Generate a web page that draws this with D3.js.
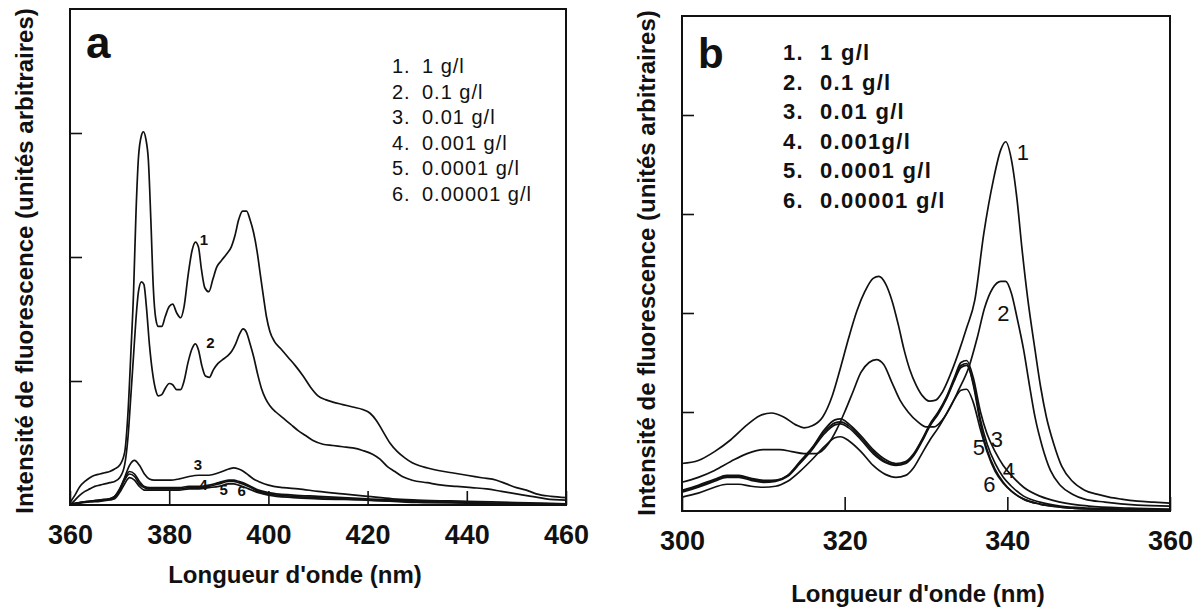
<!DOCTYPE html>
<html>
<head>
<meta charset="utf-8">
<script src="https://cdn.jsdelivr.net/npm/d3@7"></script>
<style>
  html, body { margin: 0; padding: 0; background: #fff; }
  text { font-family: "Liberation Sans", Arial, sans-serif; fill: #111; }
</style>
</head>
<body>
<script>
// ---------- DATA ----------
const legendLabelsA = ["1 g/l", "0.1 g/l", "0.01 g/l", "0.001 g/l", "0.0001 g/l", "0.00001 g/l"];
const legendLabelsB = ["1 g/l", "0.1 g/l", "0.01 g/l", "0.001g/l", "0.0001 g/l", "0.00001 g/l"];
const xTicksA = [360, 380, 400, 420, 440, 460];
const xTicksB = [300, 320, 340, 360];
const yTicksA = [1, 2, 3];
const yTicksB = [1, 2, 3, 4];

// Panel a – curve 1 (1 g/l)
const wlA1 = [360,361,362,363,364,365,366,367,368,369,370,371,371.7,372.3,372.8,373.3,373.8,374.4,374.8,375.3,375.8,376.3,376.8,377.3,377.8,378.5,379.2,380,380.7,381.5,382.3,383,383.8,384.6,385.3,385.9,386.5,387.2,388,388.8,389.6,390.5,391.5,392.5,393.3,394,394.8,395.6,396.3,397,397.7,398.4,399,399.6,400.3,401.2,402.5,404,405.5,407,408.5,410,411.5,413,415,417,419,420.5,421.8,423,424.5,426,427.5,429,431,434,437,440,443,446,448,450,452,454,457,460];
const intA1 = [0.02,0.08,0.15,0.19,0.22,0.24,0.25,0.26,0.27,0.29,0.32,0.42,0.75,1.25,1.7,2.35,2.8,2.98,3.01,2.95,2.78,2.3,1.75,1.5,1.44,1.44,1.52,1.6,1.62,1.55,1.51,1.6,1.85,2.05,2.12,2.08,1.9,1.75,1.72,1.82,1.92,1.97,2.02,2.08,2.18,2.3,2.37,2.37,2.3,2.2,2.05,1.85,1.68,1.52,1.40,1.32,1.26,1.19,1.12,1.04,0.95,0.88,0.85,0.83,0.81,0.79,0.77,0.74,0.68,0.6,0.5,0.43,0.38,0.34,0.31,0.28,0.26,0.24,0.22,0.2,0.17,0.14,0.12,0.09,0.07,0.06];
// Panel a – curve 2 (0.1 g/l)
const wlA2 = [360,361,362,363,364,365,366,367,368,369,370,371,371.7,372.3,372.8,373.3,373.8,374.4,374.9,375.4,376,376.6,377.2,377.8,378.5,379.2,380,380.7,381.5,382.3,383,383.8,384.6,385.3,385.9,386.6,387.3,388.1,388.9,389.8,390.7,391.7,392.6,393.4,394.2,394.9,395.6,396.3,397,397.8,398.6,399.4,400.3,401.5,403,404.5,406,407.5,409,411,413,415,417,419,421,422.5,424,425.5,427,429,432,435,438,441,444,447,450,453,456,460];
const intA2 = [0.0,0.04,0.08,0.11,0.13,0.15,0.16,0.17,0.18,0.19,0.22,0.32,0.55,0.9,1.2,1.5,1.72,1.8,1.78,1.6,1.3,1.08,0.94,0.88,0.89,0.94,0.98,0.97,0.93,0.93,1.0,1.15,1.26,1.3,1.25,1.12,1.04,1.03,1.09,1.14,1.17,1.2,1.24,1.3,1.38,1.42,1.39,1.3,1.2,1.06,0.94,0.86,0.8,0.75,0.7,0.65,0.6,0.56,0.52,0.49,0.48,0.47,0.46,0.44,0.41,0.37,0.31,0.27,0.23,0.2,0.18,0.16,0.15,0.14,0.13,0.11,0.09,0.07,0.05,0.04];
// Panel a – curve 3 (0.01 g/l)
const wlA3 = [360,362,364,366,368,369,370,371,372,373,374,375,376,377,378,380,382,384,386,388,390,392,393,394,395,396,397,398,400,403,406,410,415,420,425,430,440,450,460];
const intA3 = [0.01,0.02,0.03,0.04,0.05,0.07,0.12,0.22,0.32,0.36,0.32,0.25,0.21,0.2,0.2,0.2,0.21,0.23,0.24,0.24,0.26,0.29,0.3,0.29,0.27,0.24,0.21,0.19,0.16,0.14,0.13,0.11,0.09,0.07,0.05,0.04,0.03,0.02,0.01];
// Panel a – curves 4, 5, 6 (shared wavelengths)
const wlA46 = [360,362,364,366,368,369,370,371,372,373,374,375,376,378,380,382,384,386,388,390,392,393,394,396,398,400,405,410,420,430,440,450,460];
const intA4 = [0.0,0.02,0.03,0.04,0.05,0.07,0.13,0.21,0.27,0.25,0.19,0.15,0.14,0.14,0.14,0.14,0.15,0.15,0.16,0.18,0.2,0.2,0.19,0.16,0.12,0.1,0.08,0.07,0.05,0.03,0.02,0.01,0.01];
const intA5 = [0.0,0.02,0.03,0.035,0.045,0.06,0.12,0.2,0.25,0.23,0.17,0.14,0.13,0.13,0.13,0.13,0.14,0.14,0.15,0.17,0.19,0.19,0.18,0.15,0.11,0.09,0.07,0.06,0.04,0.03,0.02,0.01,0.01];
const intA6 = [0.0,0.015,0.025,0.03,0.04,0.05,0.1,0.17,0.22,0.2,0.15,0.12,0.12,0.12,0.12,0.12,0.13,0.13,0.14,0.15,0.17,0.17,0.16,0.13,0.1,0.08,0.06,0.05,0.04,0.02,0.015,0.01,0.01];

// Panel b – curve 1 (1 g/l)
const wlB1 = [300,302,304,306,308,309.5,311,312.5,314,315,316,317.3,318.5,319.5,320.5,321.5,322.5,323.5,324.2,325,325.8,326.6,327.3,328,328.8,329.6,330.4,331.2,332,333,334,335,336,337.1,338.3,339.2,339.8,340.5,341.2,341.8,342.5,343.4,344.1,344.8,345.7,346.7,348,349.5,351,352.5,354,356,358,360];
const intB1 = [0.48,0.51,0.6,0.72,0.87,0.96,0.99,0.95,0.87,0.84,0.86,0.95,1.17,1.45,1.75,2.02,2.22,2.35,2.37,2.3,2.13,1.88,1.63,1.43,1.27,1.16,1.11,1.12,1.2,1.38,1.6,1.85,2.13,2.8,3.35,3.65,3.73,3.55,3.14,2.65,2.15,1.63,1.25,0.95,0.68,0.45,0.3,0.21,0.17,0.14,0.12,0.1,0.09,0.08];
// Panel b – curve 2 (0.1 g/l)
const wlB2 = [300,302,304,306,308,310,312,313.5,315,316.5,318,319,320,321,322,323,323.9,324.8,325.8,326.8,327.8,329,330,331,332,333,334,335.3,336.3,337.2,338.2,339.2,339.8,340.5,341.2,342,342.7,343.4,344.3,345.3,346.5,348,349.5,352,356,360];
const intB2 = [0.29,0.34,0.41,0.5,0.58,0.62,0.62,0.6,0.58,0.58,0.68,0.82,1.0,1.2,1.4,1.5,1.53,1.48,1.3,1.12,1.0,0.9,0.85,0.85,0.92,1.05,1.22,1.46,1.75,2.05,2.25,2.32,2.32,2.2,1.95,1.63,1.28,0.95,0.65,0.41,0.26,0.17,0.12,0.09,0.06,0.05];
// Panel b – curves 3 to 6 (shared wavelengths)
const wlB36 = [300,302,304,305.5,307,308.5,310,311.5,313,314.5,316,317.5,318.8,319.5,320.5,322,323.5,325,326.3,327.5,328.5,329.5,330.5,331.5,332.5,333.5,334.3,335,335.8,336.7,337.5,338.5,339.5,340.5,342,344,346.5,350,355,360];
const intB3 = [0.21,0.26,0.32,0.36,0.36,0.33,0.31,0.31,0.36,0.5,0.64,0.82,0.92,0.93,0.88,0.76,0.62,0.52,0.48,0.5,0.58,0.72,0.88,1.0,1.15,1.35,1.5,1.52,1.35,1.0,0.78,0.6,0.46,0.36,0.24,0.15,0.09,0.05,0.03,0.02];
const intB4 = [0.19,0.24,0.3,0.34,0.34,0.31,0.29,0.3,0.35,0.48,0.62,0.78,0.87,0.88,0.84,0.72,0.58,0.49,0.46,0.48,0.56,0.7,0.86,0.98,1.13,1.32,1.45,1.47,1.3,0.92,0.68,0.48,0.34,0.25,0.15,0.09,0.05,0.03,0.02,0.01];
const intB5 = [0.2,0.25,0.31,0.35,0.35,0.32,0.3,0.31,0.36,0.49,0.63,0.8,0.89,0.9,0.86,0.74,0.6,0.5,0.47,0.49,0.57,0.71,0.87,0.99,1.14,1.33,1.47,1.49,1.28,0.88,0.62,0.42,0.29,0.2,0.12,0.07,0.04,0.02,0.015,0.01];
const intB6 = [0.14,0.18,0.24,0.27,0.27,0.25,0.24,0.25,0.3,0.4,0.52,0.65,0.74,0.75,0.71,0.6,0.46,0.37,0.34,0.36,0.44,0.58,0.72,0.84,0.98,1.13,1.22,1.23,1.1,0.82,0.6,0.4,0.28,0.2,0.12,0.07,0.04,0.02,0.01,0.01];

const seriesA = [[wlA1,intA1],[wlA2,intA2],[wlA3,intA3],[wlA46,intA4],[wlA46,intA5],[wlA46,intA6]];
const seriesB = [[wlB1,intB1],[wlB2,intB2],[wlB36,intB3],[wlB36,intB4],[wlB36,intB5],[wlB36,intB6]];

// curve number labels: [label, wavelength, intensity]
const curveLabelsA = [["1",387.0,2.1],["2",388.3,1.27],["3",385.8,0.285],["4",386.9,0.12],["5",391.0,0.08],["6",394.6,0.07]];
const curveLabelsB = [["1",341.9,3.55],["2",339.5,1.92],["3",338.7,0.65],["4",340.2,0.33],["5",336.5,0.57],["6",337.8,0.19]];

// ---------- DRAW ----------
const W = 1204, H = 609;
const svg = d3.select("body").append("svg").attr("width", W).attr("height", H);
svg.append("rect").attr("width", W).attr("height", H).attr("fill", "#fff");

function panel(cfg) {
  const g = svg.append("g");
  const x = d3.scaleLinear().domain(cfg.xDomain).range([cfg.left, cfg.right]);
  const y = d3.scaleLinear().domain(cfg.yDomain).range([cfg.bottom, cfg.top]);

  // curves
  const line = d3.line().x(d => x(d[0])).y(d => y(d[1])).curve(d3.curveMonotoneX);
  cfg.series.forEach(([wl, val]) => {
    g.append("path")
      .datum(wl.map((w, i) => [w, val[i]]))
      .attr("d", line)
      .attr("fill", "none")
      .attr("stroke", "#111")
      .attr("stroke-width", 1.7)
      .attr("stroke-linejoin", "round");
  });

  // x axis (inward ticks)
  const xa = g.append("g").attr("transform", `translate(0,${cfg.bottom})`)
    .call(d3.axisBottom(x).tickValues(cfg.xTicks).tickSizeInner(-14).tickSizeOuter(0).tickPadding(20).tickFormat(d3.format("d")));
  xa.select(".domain").remove();
  xa.selectAll("line").attr("stroke", "#111").attr("stroke-width", 1.6);
  xa.selectAll("text").attr("font-size", 27).attr("font-weight", "bold")
    .attr("font-family", "Liberation Sans, Arial, sans-serif").attr("fill", "#111");

  // y axis (inward ticks, no labels)
  const ya = g.append("g").attr("transform", `translate(${cfg.left},0)`)
    .call(d3.axisLeft(y).tickValues(cfg.yTicks).tickSizeInner(-12).tickSizeOuter(0).tickFormat(""));
  ya.select(".domain").remove();
  ya.selectAll("line").attr("stroke", "#111").attr("stroke-width", 1.6);

  // frame
  g.append("rect")
    .attr("x", cfg.left).attr("y", cfg.top)
    .attr("width", cfg.right - cfg.left).attr("height", cfg.bottom - cfg.top)
    .attr("fill", "none").attr("stroke", "#111").attr("stroke-width", 2);

  // panel letter
  g.append("text").attr("x", cfg.letterX).attr("y", cfg.letterY)
    .attr("font-size", cfg.letterSize).attr("font-weight", "bold").text(cfg.letter);

  // legend
  cfg.legend.forEach((t, i) => {
    const by = cfg.legY + i * cfg.legStep;
    g.append("text").attr("x", cfg.legX).attr("y", by)
      .attr("font-size", cfg.legSize).attr("font-weight", cfg.legWeight)
      .attr("letter-spacing", cfg.legLS).text((i + 1) + ".");
    g.append("text").attr("x", cfg.legX2).attr("y", by)
      .attr("font-size", cfg.legSize).attr("font-weight", cfg.legWeight)
      .attr("letter-spacing", cfg.legLS).text(t);
  });

  // curve number labels
  cfg.curveLabels.forEach(([t, w, v]) => {
    g.append("text").attr("x", x(w)).attr("y", y(v))
      .attr("text-anchor", "middle")
      .attr("font-size", cfg.cLabSize).attr("font-weight", cfg.cLabWeight).text(t);
  });

  // axis titles
  g.append("text").attr("x", cfg.xTitleX).attr("y", cfg.xTitleY)
    .attr("text-anchor", "middle").attr("font-size", 24).attr("font-weight", "bold")
    .text("Longueur d'onde (nm)");
  g.append("text")
    .attr("transform", `translate(${cfg.yTitleX},${cfg.yTitleY}) rotate(-90)`)
    .attr("text-anchor", "middle").attr("font-size", 24).attr("font-weight", "bold")
    .text("Intensité de fluorescence (unités arbitraires)");
}

panel({
  xDomain: [360, 460], yDomain: [0, 4],
  left: 70, right: 566, top: 9, bottom: 505,
  xTicks: xTicksA, yTicks: yTicksA, series: seriesA,
  letter: "a", letterX: 86, letterY: 58, letterSize: 44,
  legend: legendLabelsA, legX: 392, legX2: 422, legY: 73, legStep: 25.6,
  legSize: 20, legWeight: "normal", legLS: 1,
  curveLabels: curveLabelsA, cLabSize: 15, cLabWeight: "bold",
  xTitleX: 295, xTitleY: 583, yTitleX: 33, yTitleY: 261
});

panel({
  xDomain: [300, 360], yDomain: [0, 5],
  left: 682, right: 1170, top: 16, bottom: 511,
  xTicks: xTicksB, yTicks: yTicksB, series: seriesB,
  letter: "b", letterX: 698, letterY: 68, letterSize: 42,
  legend: legendLabelsB, legX: 783, legX2: 820, legY: 60, legStep: 29.6,
  legSize: 22, legWeight: "bold", legLS: 1.3,
  curveLabels: curveLabelsB, cLabSize: 22, cLabWeight: "normal",
  xTitleX: 918, xTitleY: 602, yTitleX: 655, yTitleY: 263
});
</script>
</body>
</html>
